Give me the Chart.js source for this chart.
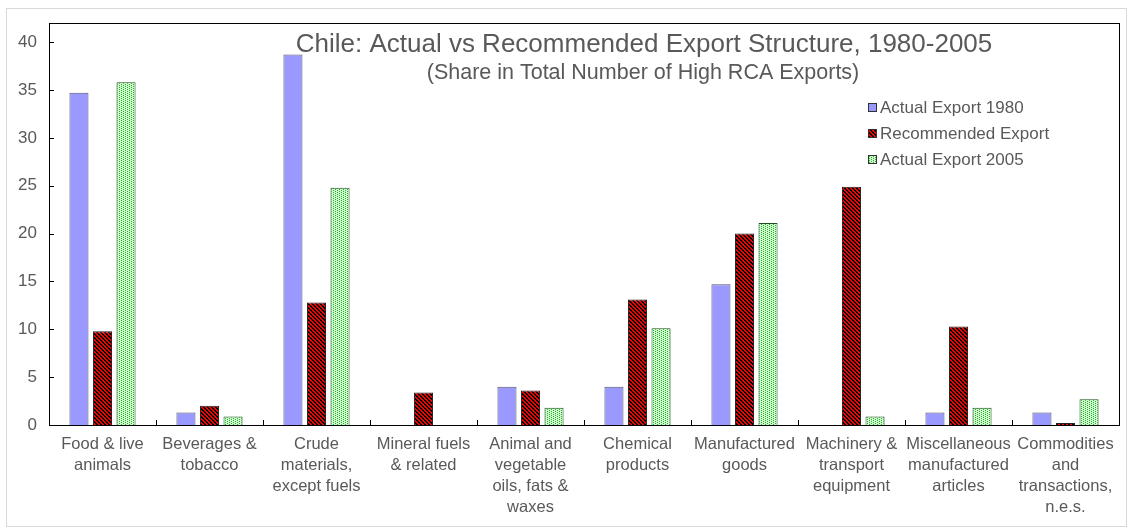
<!DOCTYPE html>
<html>
<head>
<meta charset="utf-8">
<script src="https://cdn.jsdelivr.net/npm/chart.js@4.4.1/dist/chart.umd.min.js"></script>
<style>
  html, body { margin: 0; padding: 0; background: #fff; }
  #wrap { position: relative; width: 1130px; height: 529px; }
  #frame { position: absolute; left: 6px; top: 8px; width: 1121px; height: 519px; border: 1px solid #d9d9d9; box-sizing: border-box; }
</style>
</head>
<body>
<div id="wrap">
  <div id="frame"></div>
  <canvas id="chart" width="1130" height="529"></canvas>
</div>
<script>
const categories = [
    ["Food & live", "animals"],
    ["Beverages &", "tobacco"],
    ["Crude", "materials,", "except fuels"],
    ["Mineral fuels", "& related"],
    ["Animal and", "vegetable", "oils, fats &", "waxes"],
    ["Chemical", "products"],
    ["Manufactured", "goods"],
    ["Machinery &", "transport", "equipment"],
    ["Miscellaneous", "manufactured", "articles"],
    ["Commodities", "and", "transactions,", "n.e.s."],
];
const actual1980 = [34.7, 1.3, 38.7, 0, 4.0, 4.0, 14.7, 0, 1.3, 1.3];
const recommended = [9.8, 2.0, 12.8, 3.4, 3.6, 13.1, 20.0, 24.9, 10.3, 0.2];
const actual2005 = [35.8, 0.9, 24.8, 0, 1.8, 10.1, 21.1, 0.9, 1.8, 2.7];
const yTicks = [0, 5, 10, 15, 20, 25, 30, 35, 40];
const seriesNames = ["Actual Export 1980", "Recommended Export", "Actual Export 2005"];
const titleText = "Chile: Actual vs Recommended Export Structure, 1980-2005";
const subtitleText = "(Share in Total Number of High RCA Exports)";

const FONT = "Arial, 'Liberation Sans', sans-serif";
const GRAY = "#595959";

function makePattern(size, bg, fg, dots) {
    const c = document.createElement("canvas");
    c.width = size; c.height = size;
    const g = c.getContext("2d");
    g.fillStyle = bg;
    g.fillRect(0, 0, size, size);
    g.fillStyle = fg;
    dots.forEach(([x, y]) => g.fillRect(x, y, 1, 1));
    return g.createPattern(c, "repeat");
}

// red with black diagonal stripes
const redStripe = makePattern(4, "#ff0000", "#000000",
    [[0, 0], [1, 0], [1, 1], [2, 1], [2, 2], [3, 2], [3, 3], [0, 3]]);
// light green with green dots
const greenDots = makePattern(4, "#ccffcc", "#2ea82e",
    [[1, 0], [3, 1], [1, 2], [3, 3]]);

const fills = ["#9999ff", redStripe, greenDots];
const borders = ["#55556a", "#222222", "#1f4f1f"];

const frameDeco = {
    id: "frameDeco",
    afterDatasetsDraw(chart) {
        const {ctx, chartArea: a, scales: {x, y}} = chart;
        ctx.save();
        ctx.strokeStyle = "#000";
        ctx.lineWidth = 1;
        ctx.strokeRect(a.left + 0.5, a.top + 0.5, a.right - a.left, a.bottom - a.top);
        ctx.beginPath();
        yTicks.forEach(v => {
            const py = Math.round(y.getPixelForValue(v)) + 0.5;
            ctx.moveTo(a.left, py);
            ctx.lineTo(a.left + 5, py);
        });
        for (let i = 1; i < categories.length; i++) {
            const px = Math.round((x.getPixelForValue(i - 1) + x.getPixelForValue(i)) / 2) + 0.5;
            ctx.moveTo(px, a.bottom);
            ctx.lineTo(px, a.bottom - 5);
        }
        ctx.stroke();

        // title inside plot
        ctx.fillStyle = GRAY;
        ctx.textAlign = "center";
        ctx.textBaseline = "middle";
        ctx.font = "26px " + FONT;
        ctx.fillText(titleText, 644, 45);
        ctx.font = "21.5px " + FONT;
        ctx.fillText(subtitleText, 643, 73);

        // legend inside plot
        ctx.font = "17px " + FONT;
        ctx.textAlign = "left";
        seriesNames.forEach((name, i) => {
            const ly = 108 + i * 26;
            ctx.fillStyle = fills[i];
            ctx.fillRect(868, ly - 4, 8, 8);
            ctx.strokeStyle = "#333";
            ctx.strokeRect(868.5, ly - 4.5, 8, 8);
            ctx.fillStyle = GRAY;
            ctx.fillText(name, 880, ly);
        });
        ctx.restore();
    }
};

new Chart(document.getElementById("chart"), {
    type: "bar",
    data: {
        labels: categories,
        datasets: [actual1980, recommended, actual2005].map((d, i) => ({
            label: seriesNames[i],
            data: d,
            backgroundColor: fills[i],
            borderColor: borders[i],
            borderWidth: 1,
            borderSkipped: "bottom",
            categoryPercentage: 0.66,
            barPercentage: 0.81,
        })),
    },
    options: {
        responsive: false,
        animation: false,
        layout: {padding: {left: 0, top: 23, right: 11, bottom: 0}},
        plugins: {legend: {display: false}, tooltip: {enabled: false}},
        scales: {
            x: {
                grid: {display: false, drawTicks: false},
                border: {display: false},
                ticks: {color: GRAY, font: {family: FONT, size: 16.5, lineHeight: 1.27}, padding: 9, maxRotation: 0, autoSkip: false},
                afterFit(s) { s.height = 104; },
            },
            y: {
                min: 0,
                max: 42,
                grid: {display: false, drawTicks: false},
                border: {display: false},
                ticks: {stepSize: 5, color: GRAY, font: {family: FONT, size: 17}, padding: 12},
                afterBuildTicks(s) { s.ticks = yTicks.map(v => ({value: v})); },
                afterFit(s) { s.width = 49; },
            },
        },
    },
    plugins: [frameDeco],
});
</script>
</body>
</html>
